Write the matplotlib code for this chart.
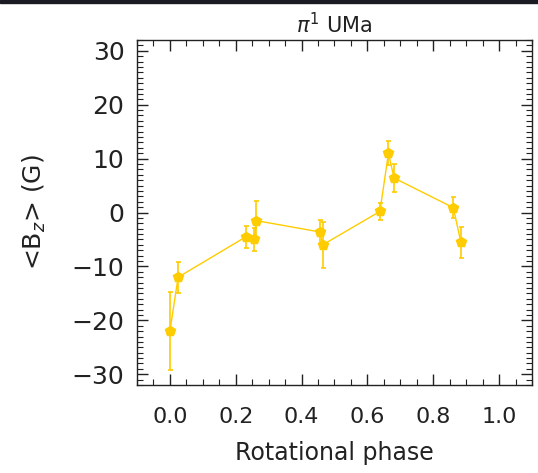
import matplotlib
matplotlib.use("Agg")
import matplotlib.pyplot as plt
from matplotlib.ticker import MultipleLocator

# rotational phase, <Bz> in gauss and the 1-sigma error
phase = [0.000, 0.025, 0.231, 0.257, 0.262, 0.455, 0.464, 0.638, 0.664, 0.681, 0.861, 0.884]
bz = [-22.0, -12.0, -4.5, -5.0, -1.5, -3.6, -6.0, 0.2, 11.0, 6.4, 0.9, -5.5]
bz_err = [7.2, 2.9, 2.0, 2.1, 3.6, 2.3, 4.3, 1.6, 2.2, 2.6, 2.0, 2.9]

xticks = [0.0, 0.2, 0.4, 0.6, 0.8, 1.0]
yticks = [-30, -20, -10, 0, 10, 20, 30]

gold = "#FFCC00"

fig = plt.figure(figsize=(5.38, 4.73), dpi=100)
ax = fig.add_axes([0.2546, 0.186, 0.7342, 0.7294])

# thin dark band along the top edge of the screenshot
fig.patches.append(plt.Rectangle((0, 0.993), 1, 0.007, transform=fig.transFigure,
                                 color="#1a1a22", zorder=10))

ax.plot(phase, bz, color=gold, lw=1.0, zorder=2)
ax.errorbar(phase, bz, yerr=bz_err, fmt="none", ecolor=gold, elinewidth=1.2,
            capsize=1.8, capthick=1.2, zorder=3)
ax.plot(phase, bz, "p", color=gold, ms=7.5, mec=gold, ls="none", zorder=4)

ax.set_xlim(-0.1, 1.1)
ax.set_ylim(-32, 32)
ax.set_xticks(xticks)
ax.set_yticks(yticks)
ax.set_xticklabels([f"{t:.1f}" for t in xticks], fontsize=16, color="#222222")
ax.set_yticklabels([f"{t:d}".replace("-", "\u2212") for t in yticks], fontsize=18,
                   color="#222222")
ax.xaxis.set_minor_locator(MultipleLocator(0.05))
ax.yaxis.set_minor_locator(MultipleLocator(1))
ax.tick_params(which="both", direction="in", top=True, right=True, color="#222222")
ax.tick_params(which="major", length=8, width=1)
ax.tick_params(which="minor", length=4, width=0.8)
ax.tick_params(axis="x", pad=16)
ax.tick_params(axis="y", pad=9)
for s in ax.spines.values():
    s.set_linewidth(1.0)
    s.set_color("#222222")

ax.set_xlabel("Rotational phase", fontsize=17, color="#222222")
ax.xaxis.set_label_coords(0.5, -0.162)
ax.set_ylabel(r"<B$_z$> (G)", fontsize=18, color="#222222")
ax.yaxis.set_label_coords(-0.225, 0.5)
ax.set_title(r"$\pi^1$ UMa", fontsize=15, pad=5, color="#222222")

fig.savefig("out.png", dpi=100)
